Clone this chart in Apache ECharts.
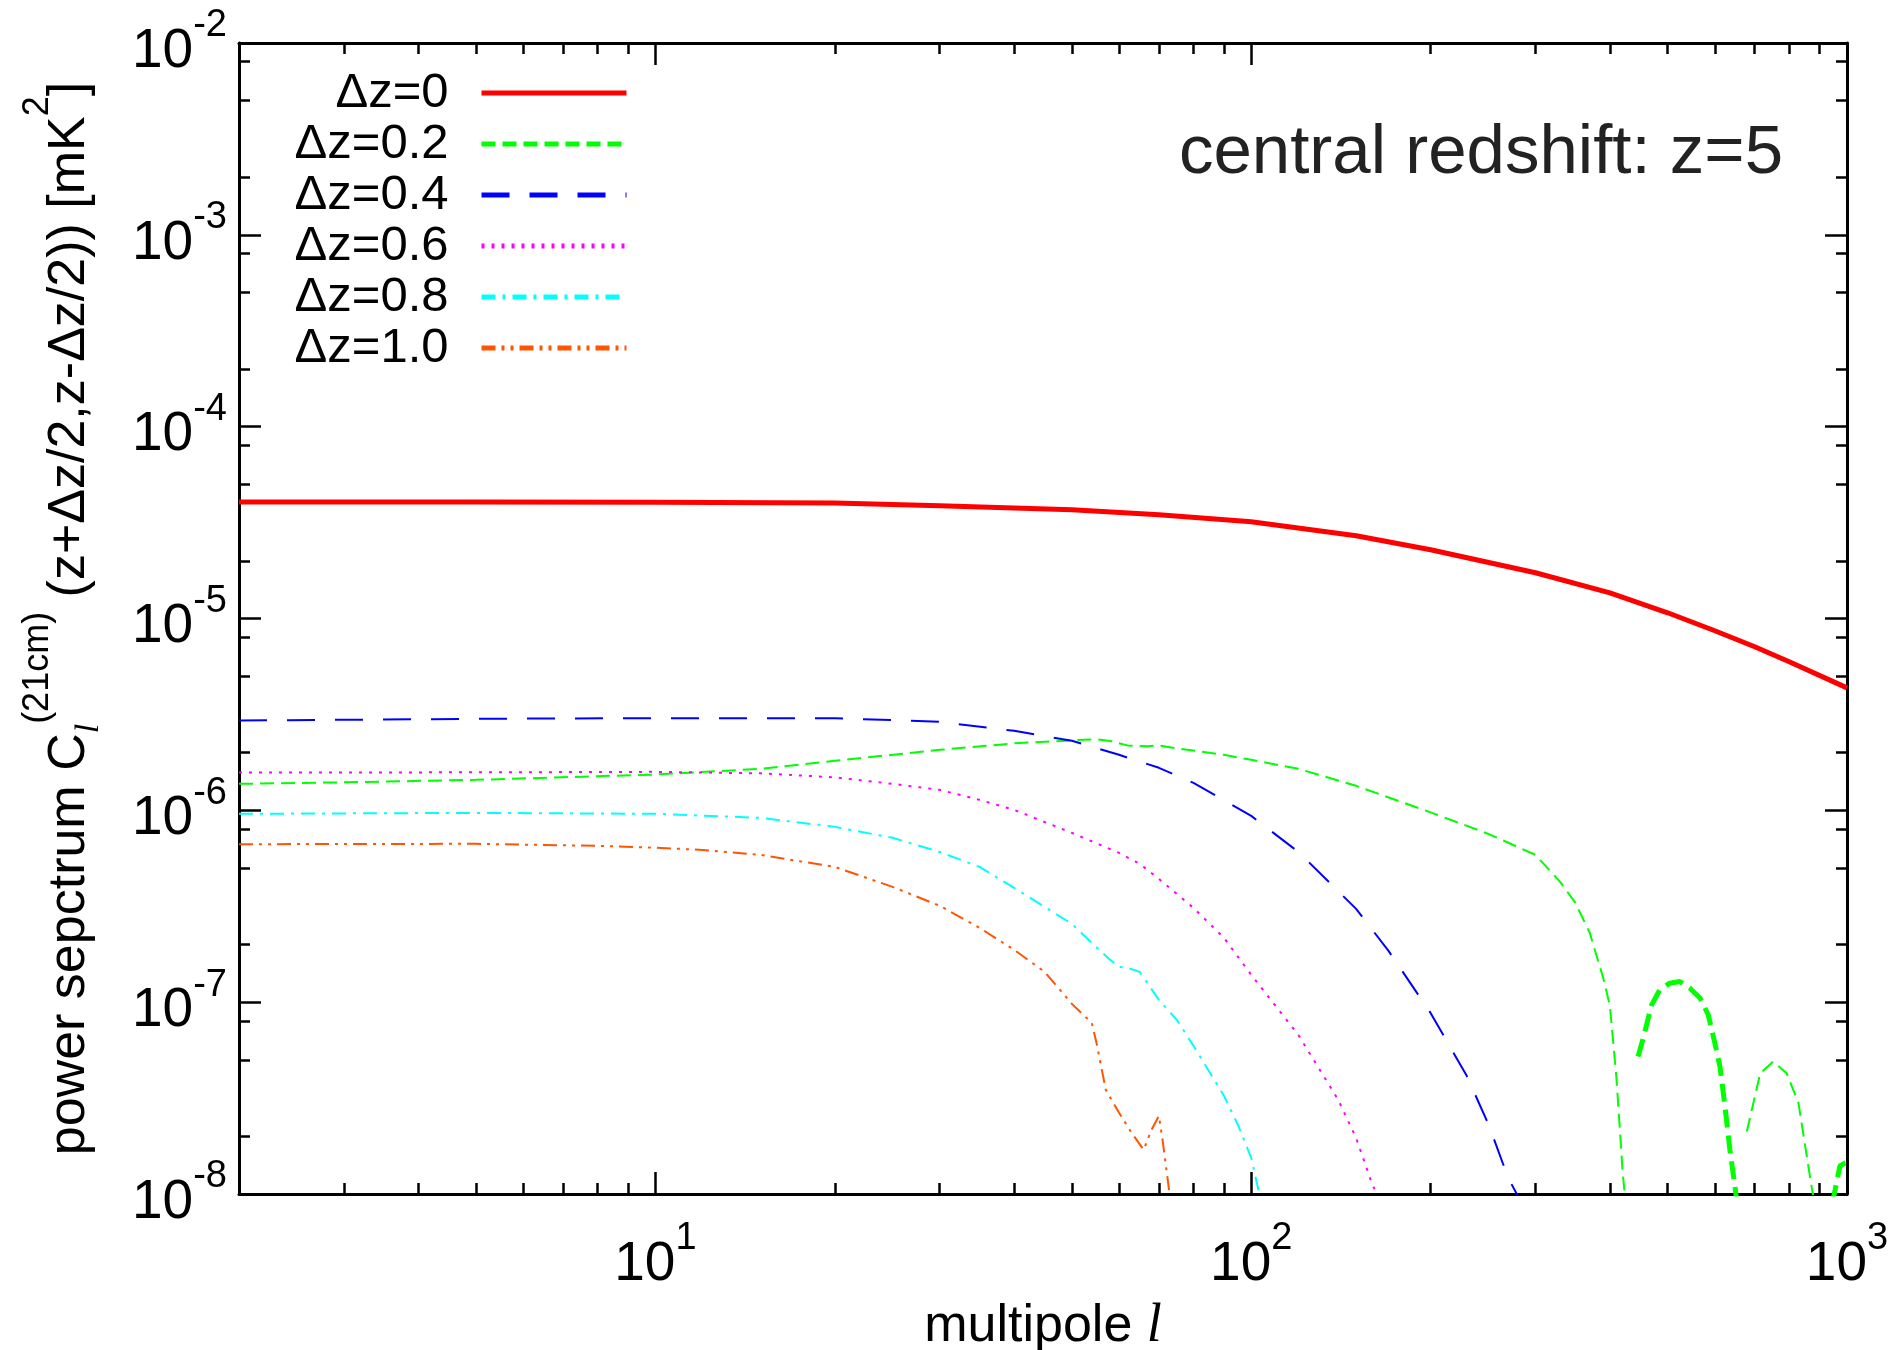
<!DOCTYPE html>
<html>
<head>
<meta charset="utf-8">
<script src="https://cdn.jsdelivr.net/npm/echarts@6/dist/echarts.min.js"></script>
<style>
html, body { margin: 0; padding: 0; background: #ffffff; }
#chart { width: 1899px; height: 1350px; }
</style>
</head>
<body>
<div id="chart"></div>
<script>
// ---------------- data ----------------
const seriesNames = ['Δz=0', 'Δz=0.2', 'Δz=0.4', 'Δz=0.6', 'Δz=0.8', 'Δz=1.0'];

const ellDz00 = [2, 5, 10, 20, 30, 50, 70, 100, 150, 200, 300, 400, 500, 600, 700, 800, 1000];
const clDz00  = [4.045e-5, 4.045e-5, 4.036e-5, 3.997e-5, 3.869e-5, 3.687e-5, 3.473e-5, 3.193e-5, 2.698e-5, 2.282e-5, 1.731e-5, 1.361e-5, 1.071e-5, 8.63e-6, 7.12e-6, 5.95e-6, 4.35e-6];

// Δz=0.2, positive part (thin dashes)
const ellDz02a = [2, 3, 5, 10, 15, 20, 30, 40, 50, 55, 58, 62, 67, 70, 75, 90, 100, 120, 150, 200, 250, 300, 330, 350, 370, 390, 400, 410, 415, 420, 428];
const clDz02a  = [1.374e-6, 1.40e-6, 1.442e-6, 1.537e-6, 1.646e-6, 1.812e-6, 2.067e-6, 2.235e-6, 2.317e-6, 2.35e-6, 2.30e-6, 2.18e-6, 2.156e-6, 2.18e-6, 2.105e-6, 1.947e-6, 1.834e-6, 1.646e-6, 1.342e-6, 9.76e-7, 7.54e-7, 5.86e-7, 4.24e-7, 3.29e-7, 2.30e-7, 1.33e-7, 9.57e-8, 4.1e-8, 2.35e-8, 1.33e-8, 7e-9];
const ellDz02b = [679, 715, 752, 792, 829, 872, 885];
const clDz02b  = [2.115e-8, 4.26e-8, 4.90e-8, 4.26e-8, 2.975e-8, 1.093e-8, 8.5e-9];
// Δz=0.2, negative part |C| (thick dashes)
const ellDz02negA = [446, 455, 470, 485, 504, 524, 545, 567, 585, 600, 612, 624, 636, 649, 655];
const clDz02negA  = [5.21e-8, 6.49e-8, 9.68e-8, 1.159e-7, 1.256e-7, 1.281e-7, 1.183e-7, 1.049e-7, 8.59e-8, 6.13e-8, 4.62e-8, 2.86e-8, 1.70e-8, 1.076e-8, 8.5e-9];
const ellDz02negB = [945, 955, 973, 992, 1000];
const clDz02negB  = [9.0e-9, 1.05e-8, 1.40e-8, 1.45e-8, 1.46e-8];

const ellDz04 = [2, 5, 10, 20, 30, 40, 50, 60, 70, 80, 100, 120, 150, 170, 200, 230, 250, 270, 290];
const clDz04  = [2.938e-6, 3.0e-6, 3.024e-6, 3.024e-6, 2.893e-6, 2.597e-6, 2.303e-6, 1.947e-6, 1.666e-6, 1.391e-6, 9.36e-7, 6.07e-7, 3.064e-7, 1.852e-7, 8.79e-8, 4.13e-8, 2.32e-8, 1.213e-8, 8.0e-9];

const ellDz06 = [2, 5, 10, 15, 20, 25, 30, 35, 40, 50, 60, 65, 70, 80, 90, 100, 120, 140, 150, 160, 170];
const clDz06  = [1.574e-6, 1.578e-6, 1.587e-6, 1.559e-6, 1.486e-6, 1.374e-6, 1.279e-6, 1.134e-6, 1.006e-6, 7.63e-7, 6.0e-7, 5.26e-7, 4.39e-7, 3.10e-7, 2.165e-7, 1.388e-7, 6.75e-8, 3.09e-8, 1.96e-8, 1.10e-8, 8.0e-9];

const ellDz08 = [2, 5, 10, 15, 20, 25, 30, 35, 40, 50, 55, 58, 60, 62, 65, 70, 75, 80, 90, 95, 100, 103, 106];
const clDz08  = [9.59e-7, 9.70e-7, 9.59e-7, 9.14e-7, 8.20e-7, 7.19e-7, 6.07e-7, 5.07e-7, 3.94e-7, 2.56e-7, 1.93e-7, 1.661e-7, 1.528e-7, 1.510e-7, 1.439e-7, 1.028e-7, 8.09e-8, 5.92e-8, 3.25e-8, 2.29e-8, 1.543e-8, 1.025e-8, 8.0e-9];

const ellDz10 = [2, 5, 8, 10, 12, 15, 20, 25, 30, 35, 40, 45, 50, 54, 55, 57, 60, 63, 66, 68, 70, 71, 72.9, 74];
const clDz10  = [6.66e-7, 6.69e-7, 6.53e-7, 6.38e-7, 6.22e-7, 5.86e-7, 5.07e-7, 3.99e-7, 3.18e-7, 2.44e-7, 1.874e-7, 1.439e-7, 9.80e-8, 7.80e-8, 6.13e-8, 3.49e-8, 2.65e-8, 2.08e-8, 1.70e-8, 2.16e-8, 2.55e-8, 1.91e-8, 1.013e-8, 7e-9];

// axis ticks
const xMajorTicks = [10, 100, 1000];
const xMinorTicks = [3, 4, 5, 6, 7, 8, 9, 20, 30, 40, 50, 60, 70, 80, 90, 200, 300, 400, 500, 600, 700, 800, 900];
const yMajorTicks = [1e-8, 1e-7, 1e-6, 1e-5, 1e-4, 1e-3, 1e-2];
const yMinorTicks = [2e-8, 5e-8, 8e-8, 2e-7, 5e-7, 8e-7, 2e-6, 5e-6, 8e-6, 2e-5, 5e-5, 8e-5, 2e-4, 5e-4, 8e-4, 2e-3, 5e-3, 8e-3];

const xRange = [2, 1000];
const yRange = [1e-8, 1e-2];

// ---------------- chart ----------------
const FONT = '"Liberation Sans", Arial, Helvetica, sans-serif';
const SERIF = '"Liberation Serif", "Times New Roman", serif';

function pairs(xs, ys) { return xs.map((x, i) => [x, ys[i]]); }

function expLabel(v) {
  return '{b|10}{s|' + Math.round(Math.log10(v)) + '}';
}
const labelRich = {
  b: { fontSize: 55, fontFamily: FONT, color: '#000', lineHeight: 72, verticalAlign: 'bottom' },
  s: { fontSize: 38, fontFamily: FONT, color: '#000', lineHeight: 38, verticalAlign: 'top' }
};

function makeAxis(dim, position, ticks, tickLen, withLine, withLabel, range) {
  const ax = {
    type: 'log', logBase: 10, min: range[0], max: range[1], position: position,
    axisLine: { show: withLine, lineStyle: { color: '#000', width: 3 } },
    axisTick: { show: true, inside: true, length: tickLen, customValues: ticks, lineStyle: { color: '#000', width: 2.5 } },
    axisLabel: { show: false },
    splitLine: { show: false },
    minorTick: { show: false },
    minorSplitLine: { show: false }
  };
  if (withLabel) {
    ax.axisLabel = {
      show: true, customValues: ticks, formatter: expLabel, rich: labelRich,
      margin: dim === 'x' ? 26 : 12, color: '#000', fontFamily: FONT
    };
  }
  return ax;
}

const xAxes = [
  makeAxis('x', 'bottom', xMajorTicks, 22, true, true, xRange),
  makeAxis('x', 'bottom', xMinorTicks, 11, false, false, xRange),
  makeAxis('x', 'top', xMajorTicks, 22, true, false, xRange),
  makeAxis('x', 'top', xMinorTicks, 11, false, false, xRange)
];
xAxes[0].name = '{n|multipole }{i|l}';
xAxes[0].nameLocation = 'middle';
xAxes[0].nameGap = 106;
xAxes[0].nameTextStyle = {
  color: '#000', fontFamily: FONT, fontSize: 52,
  rich: {
    n: { fontSize: 52, fontFamily: FONT, color: '#000' },
    i: { fontSize: 54, fontFamily: SERIF, fontStyle: 'italic', color: '#000' }
  }
};

const yAxes = [
  makeAxis('y', 'left', yMajorTicks, 22, true, true, yRange),
  makeAxis('y', 'left', yMinorTicks, 11, false, false, yRange),
  makeAxis('y', 'right', yMajorTicks, 22, true, false, yRange),
  makeAxis('y', 'right', yMinorTicks, 11, false, false, yRange)
];
yAxes[0].name = '{b|power sepctrum C}{sub|l}{sup|(21cm)}{b| (z+Δz/2,z-Δz/2)) [mK}{sup|2}{b|]}';
yAxes[0].nameLocation = 'middle';
yAxes[0].nameRotate = 90;
yAxes[0].nameGap = 133;
yAxes[0].nameTextStyle = {
  color: '#000', fontFamily: FONT, fontSize: 52,
  rich: {
    b: { fontSize: 52, fontFamily: FONT, color: '#000', lineHeight: 86, verticalAlign: 'bottom', padding: [0, 0, 10, 0] },
    sup: { fontSize: 36, fontFamily: FONT, color: '#000', lineHeight: 36, verticalAlign: 'top' },
    sub: { fontSize: 34, fontFamily: SERIF, fontStyle: 'italic', color: '#000', lineHeight: 34, verticalAlign: 'bottom' }
  }
};

function lineSeries(name, xs, ys, color, width, dash) {
  return {
    name: name, type: 'line', data: pairs(xs, ys),
    xAxisIndex: 0, yAxisIndex: 0,
    symbol: 'none', showSymbol: false, smooth: false, clip: true,
    lineStyle: { color: color, width: width, type: dash, cap: 'butt' },
    itemStyle: { color: color },
    emphasis: { disabled: true },
    silent: true
  };
}

const series = [
  lineSeries('Δz=0', ellDz00, clDz00, '#ff0000', 5, 'solid'),
  lineSeries('Δz=0.2', ellDz02a, clDz02a, '#00ff00', 2, [14, 7]),
  lineSeries('Δz=0.2', ellDz02b, clDz02b, '#00ff00', 2, [14, 7]),
  lineSeries('Δz=0.2 (negative)', ellDz02negA, clDz02negA, '#00ff00', 5, [18, 8]),
  lineSeries('Δz=0.2 (negative) ', ellDz02negB, clDz02negB, '#00ff00', 5, [18, 8]),
  lineSeries('Δz=0.4', ellDz04, clDz04, '#0000ff', 2, [28, 20]),
  lineSeries('Δz=0.6', ellDz06, clDz06, '#ff00ff', 2, [3, 7]),
  lineSeries('Δz=0.8', ellDz08, clDz08, '#00ffff', 2, [14, 7, 3, 7]),
  lineSeries('Δz=1.0', ellDz10, clDz10, '#ff5500', 2, [14, 6, 3, 6, 3, 6])
];

const chart = echarts.init(document.getElementById('chart'), null, { renderer: 'canvas' });
chart.setOption({
  animation: false,
  backgroundColor: '#ffffff',
  grid: { left: 239, right: 52, top: 43, bottom: 156, containLabel: false, outerBoundsMode: 'none' },
  xAxis: xAxes,
  yAxis: yAxes,
  legend: {
    data: seriesNames,
    orient: 'vertical', align: 'right',
    right: 1899 - 629, top: 68,
    itemWidth: 145, itemHeight: 14, itemGap: 1, padding: 0,
    selectedMode: false,
    lineStyle: { width: 5 },
    itemStyle: { opacity: 0 },
    textStyle: { fontSize: 49, fontFamily: FONT, color: '#000', lineHeight: 50, padding: [0, 28, 0, 0] }
  },
  graphic: [{
    type: 'text', x: 1783, y: 154, silent: true,
    style: { text: 'central redshift: z=5', fontSize: 69, fontFamily: FONT, fill: '#222222', align: 'right', verticalAlign: 'middle' }
  }],
  series: series
});
</script>
</body>
</html>
